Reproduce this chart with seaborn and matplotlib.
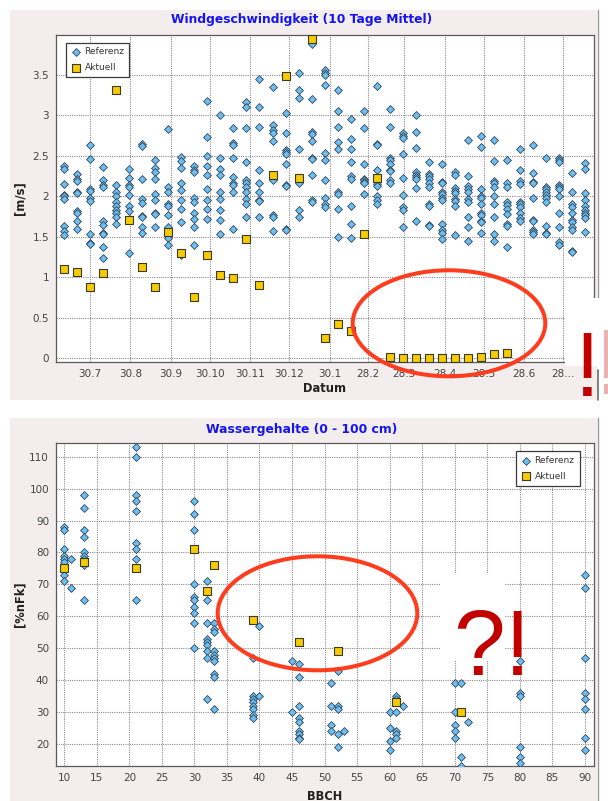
import matplotlib
matplotlib.use("Agg")
import matplotlib.pyplot as plt
from matplotlib.patches import Rectangle, Ellipse
from matplotlib.lines import Line2D
import seaborn as sns
import pandas as pd

W, H = 608, 801

# ---------------- Windgeschwindigkeit: 10-day means, day 0 = 30.7 ----------------
wind_days = [-20, -10, 0, 10, 20, 30, 40, 50, 60, 70, 80, 90, 100, 110, 120, 130,
             140, 150, 160, 170, 180, 190, 200, 210, 220, 230, 240, 250, 260, 270,
             280, 290, 300, 310, 320, 330, 340, 350, 360, 370, 380]

wind_ref = [
    [2.37, 2.34, 2.15, 2.02, 2.00, 1.97, 1.63, 1.57, 1.52],
    [2.28, 2.22, 2.19, 2.06, 2.04, 1.82, 1.80, 1.70, 1.60],
    [2.63, 2.46, 2.09, 2.07, 1.98, 1.94, 1.53, 1.43, 1.41],
    [2.36, 2.20, 2.14, 2.12, 1.70, 1.65, 1.55, 1.53, 1.37, 1.24],
    [2.14, 2.06, 2.00, 1.93, 1.88, 1.83, 1.80, 1.75, 1.66],
    [2.34, 2.23, 2.14, 2.11, 2.02, 1.88, 1.82, 1.30],
    [2.65, 2.62, 2.21, 1.97, 1.92, 1.76, 1.75, 1.62, 1.55],
    [2.45, 2.35, 2.30, 2.22, 2.03, 1.95, 1.80, 1.78, 1.62],
    [2.83, 2.12, 2.05, 1.90, 1.88, 1.77, 1.62, 1.55, 1.48, 1.40],
    [2.49, 2.44, 2.35, 2.17, 2.08, 1.95, 1.85, 1.68, 1.27],
    [2.38, 2.33, 2.30, 1.98, 1.93, 1.80, 1.72, 1.62, 1.40],
    [3.18, 2.73, 2.50, 2.38, 2.27, 2.09, 1.95, 1.85, 1.72],
    [3.00, 2.48, 2.34, 2.27, 2.05, 1.97, 1.83, 1.71, 1.54],
    [2.84, 2.66, 2.64, 2.47, 2.24, 2.16, 2.14, 2.06, 1.60],
    [3.16, 3.10, 2.85, 2.43, 2.20, 2.16, 2.12, 2.06, 1.97, 1.90, 1.75],
    [3.45, 3.10, 2.86, 2.33, 2.16, 2.05, 1.96, 1.94, 1.75],
    [3.35, 2.88, 2.82, 2.78, 2.69, 2.20, 1.77, 1.75, 1.57],
    [3.03, 2.78, 2.57, 2.55, 2.52, 2.40, 2.14, 2.13, 1.60, 1.59],
    [3.53, 3.31, 3.21, 2.59, 2.19, 2.17, 1.83, 1.74],
    [3.88, 3.20, 2.80, 2.77, 2.68, 2.48, 2.46, 2.26, 1.95, 1.93],
    [3.56, 3.53, 3.50, 3.38, 2.53, 2.45, 2.20, 1.98, 1.90, 1.87],
    [3.31, 3.05, 2.86, 2.67, 2.58, 2.06, 2.03, 1.85, 1.50],
    [2.96, 2.71, 2.59, 2.42, 2.25, 2.22, 1.88, 1.66, 1.48],
    [3.05, 2.84, 2.40, 2.22, 2.20, 2.18, 2.16, 2.03],
    [3.36, 2.65, 2.63, 2.32, 2.15, 2.13, 2.00, 1.95, 1.90],
    [3.08, 2.86, 2.48, 2.45, 2.40, 2.33, 2.31, 2.20, 2.16],
    [2.78, 2.75, 2.72, 2.52, 2.23, 2.02, 1.87, 1.83, 1.62],
    [3.00, 2.79, 2.60, 2.30, 2.27, 2.24, 2.22, 2.10, 1.70],
    [2.42, 2.28, 2.25, 2.22, 2.17, 2.12, 1.90, 1.88, 1.65, 1.63],
    [2.40, 2.18, 2.16, 2.05, 2.03, 1.98, 1.95, 1.66, 1.58, 1.55, 1.47],
    [2.30, 2.26, 2.10, 2.07, 2.04, 1.97, 1.94, 1.88, 1.52],
    [2.70, 2.25, 2.13, 2.09, 2.05, 1.97, 1.93, 1.75, 1.62, 1.45],
    [2.74, 2.61, 2.09, 2.00, 1.98, 1.90, 1.80, 1.77, 1.70, 1.68, 1.55],
    [2.70, 2.44, 2.19, 2.16, 2.12, 2.01, 1.91, 1.74, 1.54, 1.45],
    [2.45, 2.16, 2.12, 1.93, 1.89, 1.85, 1.78, 1.66, 1.64, 1.38],
    [2.58, 2.33, 2.19, 2.15, 1.93, 1.90, 1.87, 1.80, 1.73, 1.70],
    [2.63, 2.29, 2.18, 2.16, 1.98, 1.71, 1.69, 1.59, 1.56, 1.54],
    [2.47, 2.12, 2.09, 2.05, 2.02, 1.98, 1.93, 1.64, 1.55, 1.53],
    [2.47, 2.45, 2.42, 2.14, 2.12, 2.09, 2.00, 1.80, 1.62, 1.44, 1.40],
    [2.29, 2.06, 1.90, 1.87, 1.79, 1.71, 1.68, 1.62, 1.59, 1.33, 1.31],
    [2.41, 2.34, 2.04, 1.96, 1.88, 1.83, 1.79, 1.77, 1.73, 1.56],
]

# current season, available for the first 35 periods
wind_cur = [1.10, 1.06, 0.88, 1.05, 3.32, 1.71, 1.13, 0.88, 1.56, 1.30, 0.76, 1.28,
            1.03, 0.99, 1.47, 0.90, 2.26, 3.49, 2.23, 3.95, 0.25, 0.42, 0.34, 1.53,
            2.23, 0.01, 0.0, 0.0, 0.0, 0.0, 0.0, 0.0, 0.01, 0.05, 0.07]

wind_tick_days = [0, 31, 62, 92, 123, 153, 184, 213, 241, 272, 302, 333, 363]
wind_tick_labels = ["30.7", "30.8", "30.9", "30.10", "30.11", "30.12", "30.1",
                    "28.2", "28.3", "28.4", "28.5", "28.6", "28..."]
wind_yticks = [0, 0.5, 1, 1.5, 2, 2.5, 3, 3.5]
wind_ytick_labels = ["0", "0.5", "1", "1.5", "2", "2.5", "3", "3.5"]

# ---------------- Wassergehalte (0 - 100 cm) against BBCH stage ----------------
water_ref_bbch = [10, 11, 13, 21, 30, 32, 33, 39, 40, 45, 46, 51, 52, 53,
                  60, 61, 62, 70, 71, 72, 80, 90]
water_ref = [
    [88, 87, 81, 79, 78, 77, 73, 71],
    [78, 69],
    [98, 94, 87, 85, 80, 79, 78, 76, 65],
    [113, 110, 98, 96, 93, 83, 81, 78, 65],
    [96, 92, 87, 70, 66, 65, 63, 61, 58, 50],
    [71, 65, 58, 53, 52, 51, 49, 47, 34],
    [58, 56, 55, 49, 48, 47, 46, 42, 41, 31],
    [47, 35, 34, 33, 32, 31, 29, 28],
    [57, 35],
    [46, 30],
    [45, 41, 32, 28, 27, 24, 23, 22, 21.5],
    [39, 32, 26, 24],
    [43, 32, 31, 23, 19],
    [24],
    [30, 25, 21, 18],
    [35, 34, 30, 24, 23, 22],
    [32],
    [39, 30, 26, 24, 22],
    [39, 16, 13],
    [27],
    [46, 36, 35, 19, 16, 14],
    [73, 69, 47, 36, 34, 31, 22, 18],
]
water_cur_bbch = [10, 13, 21, 30, 32, 33, 39, 46, 52, 61, 71]
water_cur = [75, 77, 75, 81, 68, 76, 59, 52, 49, 33, 30]

water_xticks = [10, 15, 20, 25, 30, 35, 40, 45, 50, 55, 60, 65, 70, 75, 80, 85, 90]
water_yticks = [20, 30, 40, 50, 60, 70, 80, 90, 100, 110]

# ---------------- styling ----------------
PANEL = "#f4eded"
TITLE_BLUE = "#1414f0"
REF_FILL = "#6cbff0"
REF_EDGE = "#33475a"
CUR_FILL = "#f7cb00"
CUR_EDGE = "#3a3a2a"
RING = "#ff3d1e"
MARK_RED = "#c20000"

sns.set_style("white")
plt.rcParams["font.family"] = ["DejaVu Sans"]

fig = plt.figure(figsize=(W / 100, H / 100), dpi=100)
fig.patch.set_facecolor("white")


def fx(x):
    return x / W


def fy(y):
    return 1 - y / H


def box(x0, y0, x1, y1):
    return [fx(x0), fy(y1), (x1 - x0) / W, (y1 - y0) / H]


def rect(x0, y0, x1, y1, color, z):
    fig.add_artist(Rectangle((fx(x0), fy(y1)), (x1 - x0) / W, (y1 - y0) / H,
                             transform=fig.transFigure, facecolor=color,
                             edgecolor="none", zorder=z))


def vline(x, y0, y1, color, z, lw=1.0):
    fig.add_artist(Line2D([fx(x), fx(x)], [fy(y0), fy(y1)], transform=fig.transFigure,
                          color=color, lw=lw, zorder=z))


# chart panels
rect(10, 10, 597, 400, PANEL, -2)
rect(10, 418, 597, 801, PANEL, -2)


def style_axes(ax):
    ax.set_facecolor("white")
    ax.set_axisbelow(True)
    ax.grid(True, color="#8c8c8c", lw=0.8, ls=(0, (1, 1)))
    for sp in ax.spines.values():
        sp.set_color("#5a5a5a")
        sp.set_linewidth(0.9)
    ax.tick_params(direction="out", length=3, width=0.8, color="#666666",
                   labelcolor="#444444", labelsize=7.5, pad=2)
    ax.set_xlabel("")
    ax.set_ylabel("")


def scatter_pair(ax, ref_df, cur_df, xcol, ycol):
    sns.scatterplot(data=ref_df, x=xcol, y=ycol, ax=ax, marker="D", s=16,
                    color=REF_FILL, edgecolor=REF_EDGE, linewidth=0.6,
                    label="Referenz", zorder=3)
    sns.scatterplot(data=cur_df, x=xcol, y=ycol, ax=ax, marker="s", s=30,
                    color=CUR_FILL, edgecolor=CUR_EDGE, linewidth=0.8,
                    label="Aktuell", zorder=4)


def legend_at(ax, x0, y0, anchor):
    leg = ax.legend(loc=anchor, bbox_to_anchor=(fx(x0), fy(y0)),
                    bbox_transform=fig.transFigure, fontsize=6.5, frameon=True,
                    fancybox=False, framealpha=1, edgecolor="#3a3a3a",
                    borderpad=0.55, labelspacing=0.75, handletextpad=0.3,
                    handlelength=1.2, borderaxespad=0)
    leg.get_frame().set_linewidth(0.9)
    for t in leg.get_texts():
        t.set_color("#333333")
    return leg


# ---------------- top chart ----------------
wind_ref_df = pd.DataFrame(
    [(d, v) for d, col in zip(wind_days, wind_ref) for v in col],
    columns=["Datum", "ms"])
wind_cur_df = pd.DataFrame({"Datum": wind_days[:len(wind_cur)], "ms": wind_cur})

ax1 = fig.add_axes(box(56, 34.5, 594, 362))
scatter_pair(ax1, wind_ref_df, wind_cur_df, "Datum", "ms")
style_axes(ax1)
ax1.set_xlim(-26.1, 386.6)
ax1.set_ylim(-0.046, 4.0)
ax1.set_xticks(wind_tick_days)
ax1.set_xticklabels(wind_tick_labels)
ax1.set_yticks(wind_yticks)
ax1.set_yticklabels(wind_ytick_labels)
legend_at(ax1, 66, 42.5, "upper left")

fig.text(fx(301.5), fy(20), "Windgeschwindigkeit (10 Tage Mittel)", color=TITLE_BLUE,
         fontsize=8.8, fontweight="bold", ha="center", va="center")
fig.text(fx(325), fy(388), "Datum", fontsize=8.3, fontweight="bold", color="#222222",
         ha="center", va="center")
fig.text(fx(20), fy(198), "[m/s]", fontsize=8.3, fontweight="bold", color="#222222",
         ha="center", va="center", rotation=90)

# ---------------- bottom chart ----------------
water_ref_df = pd.DataFrame(
    [(b, v) for b, col in zip(water_ref_bbch, water_ref) for v in col],
    columns=["BBCH", "nFK"])
water_cur_df = pd.DataFrame({"BBCH": water_cur_bbch, "nFK": water_cur})

ax2 = fig.add_axes(box(56, 443.3, 594, 765.7))
scatter_pair(ax2, water_ref_df, water_cur_df, "BBCH", "nFK")
style_axes(ax2)
ax2.set_xlim(8.73, 91.4)
ax2.set_ylim(13.2, 114.2)
ax2.set_xticks(water_xticks)
ax2.set_yticks(water_yticks)
legend_at(ax2, 579.5, 451, "upper right")

fig.text(fx(301.5), fy(430), "Wassergehalte (0 - 100 cm)", color=TITLE_BLUE,
         fontsize=8.9, fontweight="bold", ha="center", va="center")
fig.text(fx(325), fy(796), "BBCH", fontsize=8.3, fontweight="bold", color="#222222",
         ha="center", va="center")
fig.text(fx(20), fy(604), "[%nFk]", fontsize=8.3, fontweight="bold", color="#222222",
         ha="center", va="center", rotation=90)

# ---------------- highlights ----------------
fig.add_artist(Ellipse((fx(449), fy(323.3)), 192.6 / W, 106 / H,
                       transform=fig.transFigure, fill=False, edgecolor=RING,
                       lw=2.9, zorder=7))
fig.add_artist(Ellipse((fx(317.5), fy(613.3)), 199.6 / W, 114 / H,
                       transform=fig.transFigure, fill=False, edgecolor=RING,
                       lw=2.9, zorder=7))

# white backing behind the exclamation marks
rect(565, 298, 608, 366, "white", 5)
rect(440, 573, 505, 660, "white", 5)

# panel edge on the right
vline(597.5, 10, 298, "#9a9a9a", 1)
vline(597.5, 370, 400, "#6a6a6a", 6, lw=1.2)
vline(597.5, 418, 801, "#9a9a9a", 1)

# faded sliver of a second mark at the right border
rect(604, 330, 608, 378, "#ecb2b2", 8)
rect(604, 384, 608, 394, "#ecb2b2", 8)

fig.text(fx(587.5), fy(396), "!", family=["Liberation Sans"], fontsize=65,
         color=MARK_RED, ha="center", va="baseline", zorder=8)
fig.text(fx(453), fy(675), "?!", family=["Liberation Sans"], fontsize=67,
         color=MARK_RED, ha="left", va="baseline", zorder=8)

fig.savefig("out.png", dpi=100)
